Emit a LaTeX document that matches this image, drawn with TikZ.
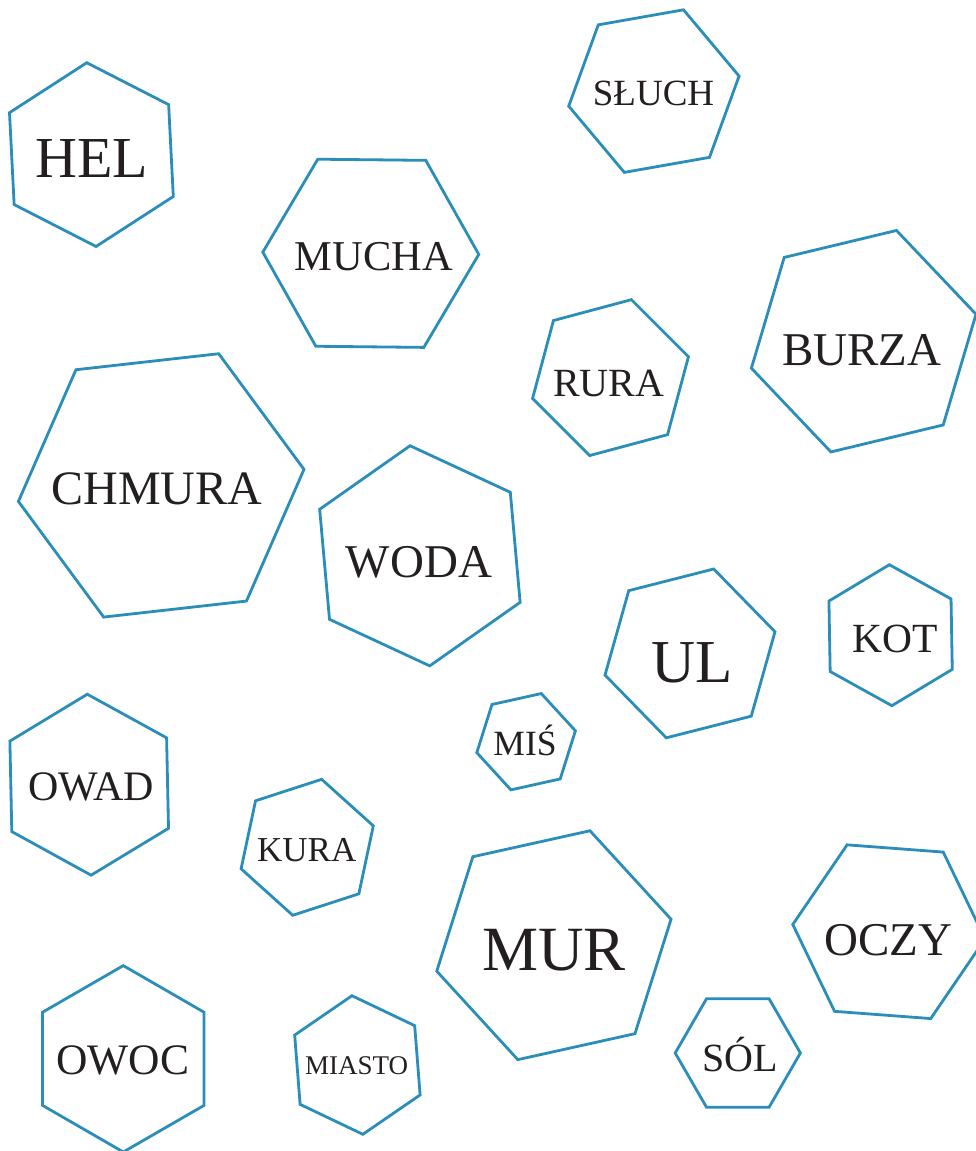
\documentclass[tikz,border=0pt]{standalone}
\usepackage{fontspec}
\setmainfont{Liberation Serif}
\usetikzlibrary{positioning}
\definecolor{HX}{HTML}{2A8DBA}
\definecolor{TX}{HTML}{231F20}

\begin{document}
\begin{tikzpicture}[x=1pt, y=-1pt,
    hexline/.style={HX, line width=2.8pt},
    word/.style={anchor=base, inner sep=0pt, text=TX}]
  \useasboundingbox (0,0) rectangle (976,1151);
  %% hexagon outlines: centre x / centre y / radius / turn
  \foreach \cx/\cy/\r/\a in {
      91.4/154.6/92/92.9, 370.8/253.3/108/59.4, 653.9/91.1/86.5/10,
      863.7/341.2/115.5/13.5, 610.5/377.6/80.7/15, 161.2/485.4/143.7/6.4,
      419.9/555.8/110.5/35.1, 690/653.4/87.7/14.3, 890.6/635.2/70.5/31,
      526.1/741.7/50.5/12.5, 89.2/784.7/90.5/31.2, 307.2/847.3/69.5/18,
      123.3/1058.8/93.2/30, 357.4/1065/69.5/34.5, 553.9/945.2/120/12.5,
      888.9/931.7/96.4/55.7, 737.8/1053/62.6/0}{
    \draw[hexline] (\cx,\cy) +(-\a:\r)
      \foreach \k in {1,...,5}{ -- +(-\a-60*\k:\r)} -- cycle;
  }
  %% words, set on their base line
  \foreach \nm/\tx/\ty/\fs/\w in {
      hel/92/177/58/HEL, mucha/374/270/42.5/MUCHA, sluch/653.5/105/37/SŁUCH,
      burza/862/365.7/47/BURZA, rura/608.8/396/40/RURA,
      chmura/156.7/504/48/CHMURA, woda/419/577.3/47/WODA,
      ul/692.2/682.3/61/UL, kot/895.2/652.7/41.5/KOT, mis/525/755/35.5/MIŚ,
      owad/91.2/800.7/42/OWAD, kura/306.7/861.7/35/KURA,
      owoc/122.7/1074/43.5/OWOC, miasto/356.7/1074/27/MIASTO,
      mur/554/970/63/MUR, oczy/888.5/955/47/OCZY, sol/740.2/1071/40/SÓL}{
    \node[word, font=\fontsize{\fs}{\fs}\selectfont] (\nm) at (\tx,\ty) {\w};
  }
\end{tikzpicture}
\end{document}
